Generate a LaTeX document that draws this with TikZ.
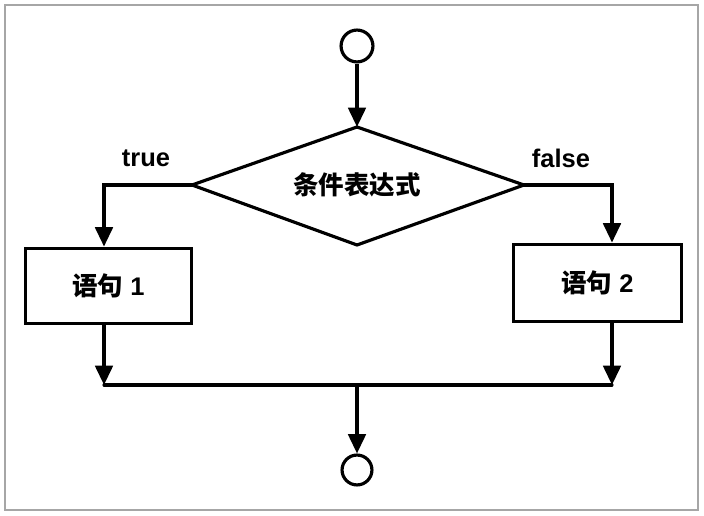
\documentclass[tikz,border=0pt]{standalone}
\usepackage{fontspec}
\setmainfont{Liberation Sans}
\newfontfamily\cjk{Noto Sans CJK SC}
\usetikzlibrary{arrows.meta}
\begin{document}
\begin{tikzpicture}[x=0.02cm,y=-0.02cm,
  thk/.style={line width=1.8pt},
  ar/.style={line width=1.8pt,-{Triangle[length=11pt,width=10pt]}},
  lab/.style={font=\fontsize{14.5}{16}\selectfont\bfseries}]
\useasboundingbox (0,0) rectangle (704,516);
\draw[gray!70,line width=0.6pt] (5,5) rectangle (698,510);
\node[thk,draw,circle,minimum size=32*0.567pt,inner sep=0] (top) at (357,46) {};
\node[thk,draw,circle,minimum size=30*0.567pt,inner sep=0] (bot) at (357,470) {};
\coordinate (dt) at (357,127); \coordinate (dl) at (192,185);
\coordinate (dr) at (524,185); \coordinate (db) at (357,245);
\draw[thk] (dt)--(dr)--(db)--(dl)--cycle;
\node[lab] (cond) at (357,185) {\cjk 条件表达式};
\node[thk,draw,minimum width=167*0.567pt,minimum height=76*0.567pt,inner sep=0,lab] (s1) at (108.5,286) {{\cjk 语句} 1};
\node[thk,draw,minimum width=169*0.567pt,minimum height=78*0.567pt,inner sep=0,lab] (s2) at (597.5,283) {{\cjk 语句} 2};
\node[lab] (t) at (146,158) {true};
\node[lab] (f) at (561,158) {false};
\draw[ar] (top)--(dt);
\draw[ar] (dl)-|(s1.north -| 104,0);
\draw[ar] (dr)-|(s2.north -| 612,0);
\coordinate (jl) at (104,385); \coordinate (jr) at (612,385); \coordinate (jm) at (357,385);
\draw[ar] (s1.south -| jl)--(jl);
\draw[ar] (s2.south -| jr)--(jr);
\draw[line width=1.8pt,line cap=round] (jl)--(jr);
\draw[ar] (jm)--(bot);
\end{tikzpicture}
\end{document}
